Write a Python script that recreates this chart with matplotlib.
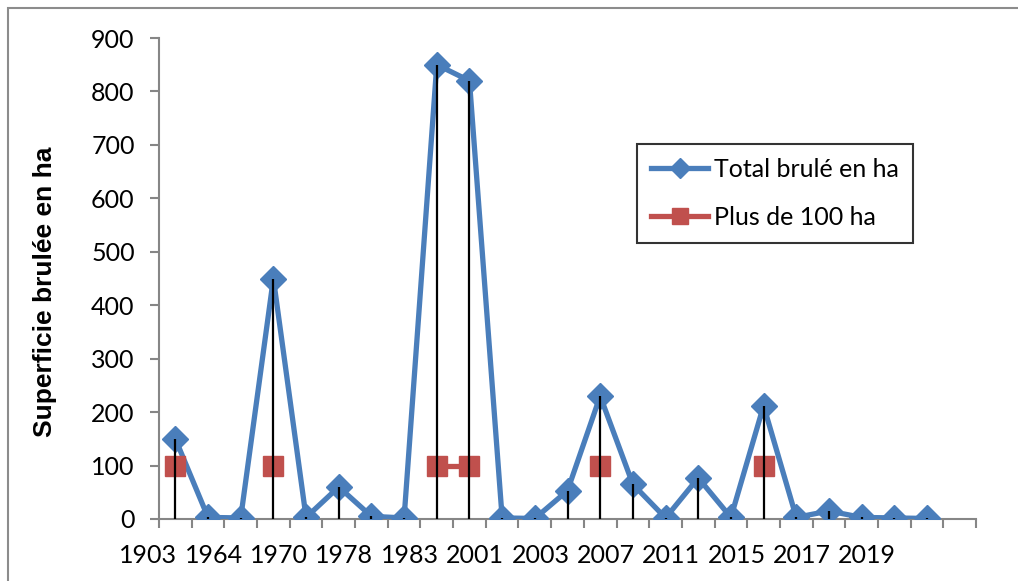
import numpy as np
import matplotlib
matplotlib.use("Agg")
import matplotlib.pyplot as plt
from matplotlib.patches import Rectangle

# Burned area per fire event (ha), one value per category slot
total_brule = [150, 3, 2, 450, 3, 60, 5, 2, 850, 820, 2, 1, 53, 230, 65, 2,
               77, 3, 212, 3, 15, 3, 2, 1]
# Events above 100 ha are flagged at the 100 ha level
plus_100 = [100, None, None, 100, None, None, None, None, 100, 100, None, None,
            None, 100, None, None, None, None, 100, None, None, None, None, None]
annees = ["1903", "1964", "1970", "1978", "1983", "2001", "2003", "2007",
          "2011", "2015", "2017", "2019"]
y_ticks = [0, 100, 200, 300, 400, 500, 600, 700, 800, 900]

BLUE = "#4A7EBB"
RED = "#C0504D"
GRAY = "#868686"
tick_font = "Lato"
TICK_SIZE = 18

fig = plt.figure(figsize=(10.18, 5.81), dpi=100)
ax = fig.add_axes([159 / 1018, 1 - 519 / 581, (976 - 159) / 1018, (519 - 38) / 581])

x = np.arange(len(total_brule))
y1 = np.array(total_brule, dtype=float)
y2 = np.array([np.nan if v is None else v for v in plus_100], dtype=float)

ax.plot(x, y1, color=BLUE, lw=3.8, marker="D", ms=13, mec=BLUE, mfc=BLUE,
        label="Total brulé en ha", zorder=3)
ax.plot(x, y2, color=RED, lw=3.8, marker="s", ms=14, mec=RED, mfc=RED,
        label="Plus de 100 ha", zorder=4)
# drop lines from each point down to the axis
ax.vlines(x, 0, y1, colors="black", lw=1.6, zorder=5)

ax.set_yticks(y_ticks)
ax.set_yticklabels([str(v) for v in y_ticks], fontfamily=tick_font, fontsize=TICK_SIZE)
ax.set_xticks(np.arange(-0.5, 25, 1.0))
ax.set_xticklabels([])
ax.set_xlim(-0.5, 24.5)
ax.set_ylim(0, 900)

# year labels, one every two slots, sitting slightly left of the slot centres
for k, lab in enumerate(annees):
    ax.text(2 * k - 0.83, -0.075, lab, transform=ax.get_xaxis_transform(),
            ha="center", va="center", fontfamily=tick_font, fontsize=TICK_SIZE,
            clip_on=False)

ax.tick_params(axis="x", which="major", direction="out", length=6.5, width=1.5, color=GRAY)
ax.tick_params(axis="y", which="major", direction="out", length=6.5, width=1.5, color=GRAY, pad=11)

for side in ["top", "right"]:
    ax.spines[side].set_visible(False)
for side in ["left", "bottom"]:
    ax.spines[side].set_color(GRAY)
    ax.spines[side].set_linewidth(1.5)

fig.text(45 / 1018, 1 - 292 / 581, "Superficie brulée en ha", rotation=90,
         ha="center", va="center", fontfamily="Liberation Sans",
         fontweight="bold", fontsize=19)

leg = ax.legend(loc="upper left", bbox_to_anchor=(637 / 1018, 1 - 144 / 581),
                bbox_transform=fig.transFigure, frameon=True, fancybox=False,
                prop={"family": tick_font, "size": 18}, handlelength=2.3,
                labelspacing=1.0, borderpad=0.55, handletextpad=0.25, borderaxespad=0)
leg.get_frame().set_edgecolor("black")
leg.get_frame().set_linewidth(1.5)
leg.legend_handles[0].set_markersize(10)
leg.legend_handles[1].set_markersize(11)

# outer chart frame
fig.patches.append(Rectangle((8 / 1018, -0.1), 1.2, 1 - 8 / 581 + 0.1,
                             transform=fig.transFigure, fill=False,
                             edgecolor="#8C8C8C", lw=1.5))

fig.savefig("out.png", dpi=100)
